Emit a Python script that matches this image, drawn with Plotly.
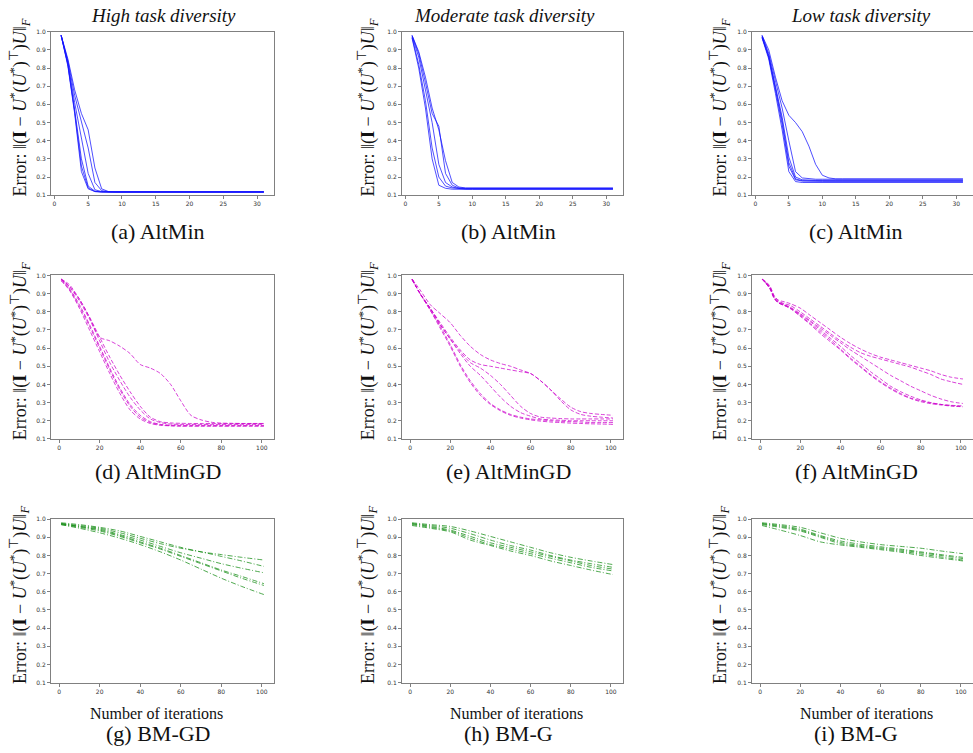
import plotly.graph_objects as go
from plotly.subplots import make_subplots

W, H = 973, 753

# ---------------- data ----------------
col_titles = ["High task diversity", "Moderate task diversity", "Low task diversity"]
captions = ["(a) AltMin", "(b) AltMin", "(c) AltMin",
            "(d) AltMinGD", "(e) AltMinGD", "(f) AltMinGD",
            "(g) BM-GD", "(h) BM-G", "(i) BM-G"]
x_label = "Number of iterations"
y_ticks = [0.1, 0.2, 0.3, 0.4, 0.5, 0.6, 0.7, 0.8, 0.9, 1.0]
x_ticks_altmin = [0, 5, 10, 15, 20, 25, 30]
x_ticks_long = [0, 20, 40, 60, 80, 100]

# (a) AltMin, high diversity
a_x = [1, 2, 3, 4, 5, 6, 7, 8, 9, 31]
a_runs = [
    [0.98, 0.85, 0.68, 0.55, 0.46, 0.25, 0.135, 0.12, 0.118, 0.118],
    [0.98, 0.84, 0.65, 0.50, 0.36, 0.17, 0.125, 0.119, 0.118, 0.118],
    [0.98, 0.83, 0.61, 0.42, 0.22, 0.13, 0.12, 0.118, 0.118, 0.118],
    [0.98, 0.82, 0.57, 0.30, 0.15, 0.122, 0.118, 0.118, 0.118, 0.118],
    [0.98, 0.81, 0.55, 0.23, 0.135, 0.12, 0.118, 0.118, 0.118, 0.118],
    [0.98, 0.82, 0.56, 0.26, 0.14, 0.12, 0.118, 0.118, 0.118, 0.118],
]
# (b) AltMin, moderate diversity
b_x = [1, 2, 3, 4, 5, 6, 7, 8, 9, 10, 31]
b_runs = [
    [0.98, 0.89, 0.75, 0.58, 0.46, 0.29, 0.17, 0.145, 0.14, 0.14, 0.14],
    [0.98, 0.88, 0.72, 0.55, 0.48, 0.22, 0.155, 0.14, 0.138, 0.138, 0.138],
    [0.975, 0.86, 0.68, 0.50, 0.27, 0.17, 0.145, 0.138, 0.136, 0.136, 0.136],
    [0.97, 0.82, 0.62, 0.36, 0.20, 0.15, 0.14, 0.135, 0.134, 0.134, 0.134],
    [0.965, 0.80, 0.58, 0.30, 0.155, 0.138, 0.133, 0.132, 0.132, 0.132, 0.132],
]
# (c) AltMin, low diversity
c_x = [1, 2, 3, 4, 5, 6, 7, 8, 9, 10, 11, 12, 13, 31]
c_runs = [
    [0.98, 0.90, 0.75, 0.62, 0.54, 0.50, 0.45, 0.37, 0.27, 0.21, 0.195, 0.19, 0.19, 0.19],
    [0.98, 0.88, 0.73, 0.58, 0.40, 0.23, 0.195, 0.19, 0.188, 0.188, 0.188, 0.188, 0.188, 0.188],
    [0.975, 0.87, 0.70, 0.53, 0.31, 0.20, 0.185, 0.182, 0.182, 0.182, 0.182, 0.182, 0.182, 0.182],
    [0.97, 0.86, 0.68, 0.49, 0.26, 0.185, 0.178, 0.176, 0.176, 0.176, 0.176, 0.176, 0.176, 0.176],
    [0.965, 0.85, 0.66, 0.46, 0.23, 0.175, 0.17, 0.17, 0.17, 0.17, 0.17, 0.17, 0.17, 0.17],
    [0.97, 0.86, 0.69, 0.51, 0.28, 0.19, 0.18, 0.179, 0.179, 0.179, 0.179, 0.179, 0.179, 0.179],
]
# (d) AltMinGD, high diversity
d_x = [1, 5, 10, 15, 20, 25, 30, 35, 40, 45, 50, 55, 60, 65, 70, 75, 80, 85, 90, 95, 101]
d_runs = [
    [0.98, 0.95, 0.87, 0.77, 0.66, 0.64, 0.61, 0.57, 0.51, 0.49, 0.46, 0.40, 0.31, 0.23, 0.205, 0.192, 0.187, 0.186, 0.185, 0.185, 0.185],
    [0.97, 0.92, 0.82, 0.70, 0.58, 0.46, 0.35, 0.26, 0.21, 0.185, 0.175, 0.172, 0.17, 0.17, 0.17, 0.17, 0.17, 0.17, 0.17, 0.17, 0.17],
    [0.98, 0.93, 0.84, 0.73, 0.61, 0.49, 0.38, 0.29, 0.23, 0.195, 0.18, 0.176, 0.175, 0.175, 0.175, 0.175, 0.175, 0.175, 0.175, 0.175, 0.175],
    [0.98, 0.94, 0.86, 0.76, 0.64, 0.52, 0.42, 0.33, 0.26, 0.21, 0.19, 0.182, 0.18, 0.18, 0.18, 0.18, 0.18, 0.18, 0.18, 0.18, 0.18],
    [0.98, 0.94, 0.87, 0.77, 0.66, 0.55, 0.45, 0.36, 0.28, 0.22, 0.195, 0.188, 0.186, 0.185, 0.185, 0.185, 0.185, 0.185, 0.185, 0.185, 0.185],
    [0.975, 0.925, 0.83, 0.72, 0.60, 0.48, 0.37, 0.28, 0.22, 0.19, 0.178, 0.173, 0.172, 0.172, 0.172, 0.172, 0.172, 0.172, 0.172, 0.172, 0.172],
]
# (e) AltMinGD, moderate diversity
e_x = [1, 5, 10, 15, 20, 25, 30, 35, 40, 45, 50, 55, 60, 65, 70, 75, 80, 85, 90, 95, 101]
e_runs = [
    [0.98, 0.92, 0.84, 0.79, 0.74, 0.67, 0.61, 0.565, 0.535, 0.515, 0.50, 0.48, 0.46, 0.42, 0.37, 0.32, 0.275, 0.25, 0.24, 0.235, 0.23],
    [0.98, 0.90, 0.82, 0.74, 0.66, 0.59, 0.535, 0.51, 0.50, 0.49, 0.48, 0.47, 0.46, 0.42, 0.37, 0.31, 0.26, 0.235, 0.225, 0.22, 0.215],
    [0.98, 0.90, 0.82, 0.73, 0.65, 0.58, 0.52, 0.49, 0.45, 0.40, 0.34, 0.28, 0.24, 0.22, 0.215, 0.212, 0.21, 0.21, 0.21, 0.21, 0.21],
    [0.98, 0.90, 0.82, 0.73, 0.65, 0.57, 0.50, 0.45, 0.39, 0.33, 0.28, 0.245, 0.225, 0.21, 0.205, 0.203, 0.20, 0.20, 0.20, 0.20, 0.20],
    [0.98, 0.90, 0.81, 0.72, 0.62, 0.51, 0.42, 0.35, 0.295, 0.26, 0.235, 0.22, 0.21, 0.205, 0.20, 0.197, 0.195, 0.193, 0.19, 0.19, 0.19],
    [0.975, 0.90, 0.81, 0.71, 0.61, 0.50, 0.41, 0.34, 0.29, 0.255, 0.23, 0.215, 0.205, 0.198, 0.193, 0.19, 0.187, 0.185, 0.183, 0.182, 0.18],
]
# (f) AltMinGD, low diversity
f_x = [1, 3, 5, 7, 9, 12, 15, 20, 25, 30, 35, 40, 45, 50, 55, 60, 65, 70, 75, 80, 85, 90, 95, 101]
f_runs = [
    [0.98, 0.965, 0.94, 0.89, 0.865, 0.855, 0.845, 0.82, 0.78, 0.74, 0.70, 0.66, 0.625, 0.595, 0.57, 0.55, 0.535, 0.52, 0.505, 0.49, 0.475, 0.455, 0.44, 0.43],
    [0.98, 0.96, 0.935, 0.885, 0.86, 0.845, 0.835, 0.80, 0.76, 0.72, 0.68, 0.64, 0.605, 0.575, 0.555, 0.54, 0.525, 0.51, 0.495, 0.475, 0.455, 0.43, 0.415, 0.40],
    [0.98, 0.96, 0.93, 0.88, 0.855, 0.84, 0.825, 0.79, 0.75, 0.71, 0.67, 0.63, 0.59, 0.555, 0.52, 0.485, 0.45, 0.42, 0.39, 0.365, 0.34, 0.32, 0.305, 0.295],
    [0.98, 0.955, 0.925, 0.875, 0.85, 0.835, 0.82, 0.78, 0.735, 0.69, 0.645, 0.595, 0.545, 0.50, 0.455, 0.415, 0.38, 0.35, 0.325, 0.31, 0.298, 0.29, 0.283, 0.278],
    [0.98, 0.955, 0.925, 0.875, 0.85, 0.835, 0.818, 0.775, 0.73, 0.68, 0.635, 0.59, 0.54, 0.495, 0.45, 0.41, 0.375, 0.345, 0.322, 0.305, 0.294, 0.287, 0.281, 0.277],
    [0.98, 0.958, 0.928, 0.878, 0.852, 0.838, 0.822, 0.785, 0.745, 0.70, 0.655, 0.61, 0.56, 0.515, 0.47, 0.43, 0.39, 0.36, 0.335, 0.315, 0.30, 0.29, 0.285, 0.282],
]
# (g) BM-GD, high diversity
g_x = [1, 10, 20, 30, 40, 50, 60, 70, 80, 90, 101]
g_runs = [
    [0.98, 0.97, 0.955, 0.935, 0.905, 0.875, 0.845, 0.82, 0.805, 0.79, 0.775],
    [0.975, 0.965, 0.95, 0.925, 0.895, 0.865, 0.84, 0.82, 0.795, 0.77, 0.74],
    [0.975, 0.96, 0.945, 0.915, 0.885, 0.85, 0.815, 0.785, 0.755, 0.73, 0.705],
    [0.975, 0.96, 0.94, 0.91, 0.875, 0.84, 0.80, 0.76, 0.72, 0.685, 0.645],
    [0.97, 0.955, 0.935, 0.905, 0.87, 0.835, 0.795, 0.755, 0.715, 0.675, 0.635],
    [0.97, 0.95, 0.925, 0.895, 0.86, 0.82, 0.775, 0.725, 0.675, 0.63, 0.585],
]
# (h) BM-G, moderate diversity
h_x = [1, 10, 20, 30, 40, 50, 60, 70, 80, 90, 101]
h_runs = [
    [0.98, 0.97, 0.96, 0.935, 0.905, 0.875, 0.845, 0.815, 0.79, 0.77, 0.75],
    [0.975, 0.965, 0.95, 0.92, 0.885, 0.855, 0.83, 0.80, 0.775, 0.755, 0.735],
    [0.975, 0.96, 0.94, 0.905, 0.87, 0.845, 0.82, 0.795, 0.77, 0.745, 0.725],
    [0.97, 0.955, 0.935, 0.895, 0.86, 0.835, 0.81, 0.785, 0.76, 0.735, 0.715],
    [0.965, 0.95, 0.93, 0.885, 0.855, 0.825, 0.80, 0.77, 0.745, 0.72, 0.695],
]
# (i) BM-G, low diversity
i_x = [1, 10, 20, 30, 40, 50, 60, 70, 80, 90, 101]
i_runs = [
    [0.98, 0.97, 0.955, 0.925, 0.895, 0.875, 0.86, 0.85, 0.84, 0.825, 0.81],
    [0.975, 0.965, 0.945, 0.91, 0.88, 0.862, 0.848, 0.835, 0.82, 0.805, 0.79],
    [0.975, 0.96, 0.94, 0.905, 0.872, 0.855, 0.842, 0.83, 0.815, 0.80, 0.783],
    [0.97, 0.955, 0.935, 0.90, 0.865, 0.85, 0.837, 0.824, 0.808, 0.792, 0.775],
    [0.965, 0.94, 0.91, 0.875, 0.858, 0.845, 0.832, 0.818, 0.80, 0.785, 0.77],
]

panels = [
    (a_x, a_runs), (b_x, b_runs), (c_x, c_runs),
    (d_x, d_runs), (e_x, e_runs), (f_x, f_runs),
    (g_x, g_runs), (h_x, h_runs), (i_x, i_runs),
]

# ---------------- styling ----------------
row_styles = [
    dict(color="rgba(20,20,255,0.75)", dash="solid", shape="linear"),
    dict(color="rgba(204,0,204,0.75)", dash="4px,2px", shape="spline"),
    dict(color="rgba(20,140,20,0.75)", dash="5px,2px,1px,2px", shape="spline"),
]
# positions in page pixels
col_px = [(51, 274), (402, 623), (752, 973)]
row_px = [(28, 193), (274, 439), (520, 685)]
ylabel_x = [20, 368, 720]
caption_x = [158, 508, 856]
caption_y = [230, 472, 736]
xlabel_x = [156, 516, 866]
xlabel_y = 716
title_x = [163, 504, 861]
title_y = 12


def px(v):
    return v / W


def py(v):
    return 1 - v / H


SERIF = "Liberation Serif, Times New Roman, serif"
SANS = "DejaVu Sans, sans-serif"

fig = make_subplots(rows=3, cols=3)

for k, (xs, runs) in enumerate(panels):
    r, c = divmod(k, 3)
    st = row_styles[r]
    for ys in runs:
        fig.add_trace(go.Scatter(
            x=xs, y=ys, mode="lines",
            line=dict(color=st["color"], width=1, dash=st["dash"], shape=st["shape"], smoothing=0.8),
            showlegend=False, hoverinfo="skip"),
            row=r + 1, col=c + 1)

layout_updates = {}
for k in range(9):
    r, c = divmod(k, 3)
    suffix = "" if k == 0 else str(k + 1)
    x0, x1 = col_px[c]
    y0, y1 = row_px[r]
    if r == 0:
        xr, xt = [-0.5, 32.5], x_ticks_altmin
    else:
        xr, xt = [-4, 106], x_ticks_long
    layout_updates["xaxis" + suffix] = dict(
        domain=[px(x0), min(px(x1), 1.0)], range=xr, tickvals=xt,
        showgrid=False, zeroline=False, showline=True, linecolor="#808080", linewidth=1,
        mirror=True, ticks="outside", ticklen=3, tickcolor="#808080",
        tickfont=dict(family=SANS, size=6, color="#333333"))
    layout_updates["yaxis" + suffix] = dict(
        domain=[py(y1), py(y0)], range=[0.1, 1.0], tickvals=y_ticks,
        ticktext=[f"{v:.1f}" for v in y_ticks],
        showgrid=False, zeroline=False, showline=True, linecolor="#808080", linewidth=1,
        mirror=(c != 2), ticks="outside", ticklen=3, tickcolor="#808080",
        tickfont=dict(family=SANS, size=6, color="#333333"))

annotations = []
ylab = ("Error: ‖(<b>I</b> − <i>U</i><sup>*</sup>(<i>U</i><sup>*</sup>)<sup>⊤</sup>)"
        "<i>U</i>‖<sub><i>F</i></sub>")
for k in range(9):
    r, c = divmod(k, 3)
    y0, y1 = row_px[r]
    annotations.append(dict(
        text=ylab, textangle=-90, xref="paper", yref="paper",
        x=px(ylabel_x[c]), y=py((y0 + y1) / 2 - 6),
        xanchor="center", yanchor="middle", showarrow=False, borderpad=0,
        font=dict(family=SERIF, size=18, color="#111111")))
    annotations.append(dict(
        text=captions[k], xref="paper", yref="paper",
        x=px(caption_x[c]), y=py(caption_y[r]),
        xanchor="center", yanchor="middle", showarrow=False,
        font=dict(family=SERIF, size=22, color="#111111")))
for c in range(3):
    annotations.append(dict(
        text="<i>" + col_titles[c] + "</i>", xref="paper", yref="paper",
        x=px(title_x[c]), y=py(title_y), xanchor="center", yanchor="middle",
        showarrow=False, borderpad=0, font=dict(family=SERIF, size=19, color="#111111")))
    annotations.append(dict(
        text=x_label, xref="paper", yref="paper",
        x=px(xlabel_x[c]), y=py(xlabel_y), xanchor="center", yanchor="middle",
        showarrow=False, font=dict(family=SERIF, size=16, color="#111111")))

fig.update_layout(
    width=W, height=H, autosize=False,
    margin=dict(l=0, r=0, t=0, b=0),
    paper_bgcolor="white", plot_bgcolor="white",
    annotations=annotations, showlegend=False, hovermode=False,
    **layout_updates)

# remove the browser's default 8px body margin so the figure fills the window
fig.write_html(
    "out.html",
    config={"displayModeBar": False, "staticPlot": True},
    post_script="document.body.style.margin='0';document.body.style.overflow='hidden';")
